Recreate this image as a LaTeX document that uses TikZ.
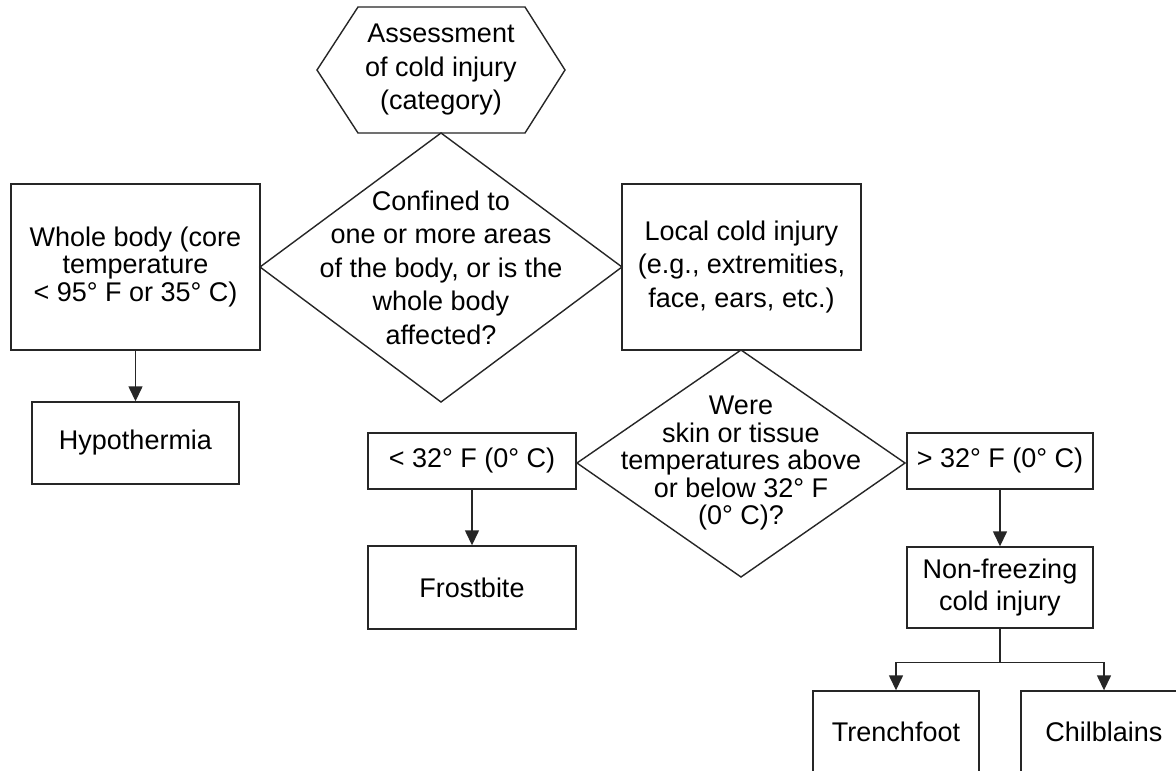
\documentclass[tikz,border=0pt]{standalone}
\usepackage{fontspec}
\setmainfont{Liberation Sans}
\usetikzlibrary{arrows.meta}
\newcommand{\fsA}{\fontsize{27}{27.5}\selectfont}
\newcommand{\fsB}{\fontsize{27}{33.5}\selectfont}
\newcommand{\fsC}{\fontsize{27}{32}\selectfont}
\tikzset{
  ln/.style={draw=black!85, line width=1.4pt, line join=miter},
  box/.style={ln, rectangle, inner sep=0pt, align=center},
  txt/.style={inner sep=0pt, align=center},
  arr/.style={ln, -{Triangle[width=14pt,length=15pt]}},
}
\begin{document}
\begin{tikzpicture}[x=1pt,y=-1pt,font=\fsA]
\clip (0,0) rectangle (1176,771);
\fill[white] (0,0) rectangle (1176,771);
% hexagon
\node[txt,font=\fsB] (hex) at (441,70) {Assessment\\of cold injury\\(category)};
\draw[ln] (317,70) -- (358,7) -- (525,7) -- (565,70) -- (525,133) -- (358,133) -- cycle;
% diamond 1
\node[txt,font=\fsB] (d1) at (441,267.5) {Confined to\\one or more areas\\of the body, or is the\\whole body\\affected?};
\draw[ln] (260,267) -- (441,133) -- (622,267) -- (441,402) -- cycle;
% boxes
\node[box,minimum width=249pt,minimum height=166pt] (whole) at (135.5,267) {Whole body (core\\temperature\\< 95° F or 35° C)};
\node[box,font=\fsB,minimum width=239pt,minimum height=166pt] (local) at (741.5,267) {Local cold injury\\(e.g., extremities,\\face, ears, etc.)};
\node[box,minimum width=207pt,minimum height=82pt] (hypo) at (135.5,443) {Hypothermia};
% diamond 2
\node[txt] (d2) at (741,463.5) {Were\\skin or tissue\\temperatures above\\or below 32° F\\(0° C)?};
\draw[ln] (577,463) -- (741,350) -- (905,463) -- (741,577) -- cycle;
\node[box,minimum width=208pt,minimum height=56pt] (lt) at (472,461) {< 32° F (0° C)};
\node[box,minimum width=208pt,minimum height=83pt] (frost) at (472,587.5) {Frostbite};
\node[box,minimum width=186pt,minimum height=56pt] (gt) at (1000,461) {> 32° F (0° C)};
\node[box,font=\fsC,minimum width=186pt,minimum height=81pt] (nonf) at (1000,587.5) {Non-freezing\\cold injury};
\node[box,minimum width=166pt,minimum height=82pt] (trench) at (896,732) {Trenchfoot};
\node[box,minimum width=166pt,minimum height=82pt] (chil) at (1104,732) {Chilblains};
% connectors
\draw[arr] (whole.south) -- (hypo.north);
\draw[arr] (lt.south) -- (frost.north);
\draw[arr] (gt.south) -- (nonf.north);
\draw[arr] (nonf.south) -- ++(0,34) -| (trench.north);
\draw[arr] (nonf.south) -- ++(0,34) -| (chil.north);
\end{tikzpicture}
\end{document}
